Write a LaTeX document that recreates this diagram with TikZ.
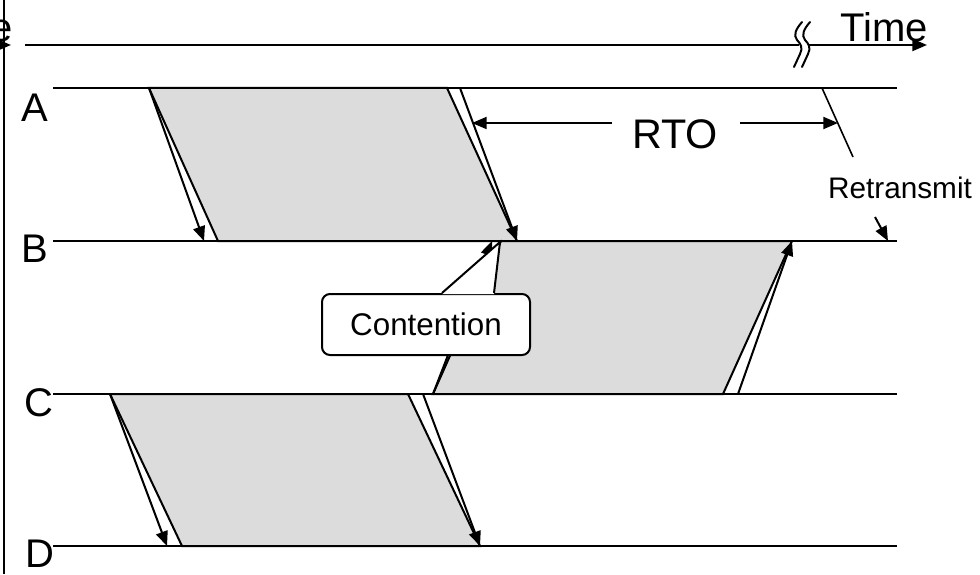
\documentclass[tikz,border=0pt]{standalone}
\usepackage{fontspec}
\setmainfont{Liberation Sans}
\usetikzlibrary{arrows.meta,calc}
\definecolor{slotgray}{RGB}{220,220,220}
\tikzset{
  wire/.style={line width=1.5pt},
  msg/.style={line width=1.5pt,-{Triangle[length=11pt,width=9pt]}},
  slot/.style={fill=slotgray,draw,line width=1.5pt,line join=miter},
  biglbl/.style={inner sep=0pt,anchor=base,font=\fontsize{30}{36}\selectfont},
  smalllbl/.style={inner sep=0pt,anchor=base,font=\fontsize{22.3}{27}\selectfont},
  calloutbox/.style={draw,fill=white,line width=1.5pt,rounded corners=6pt,
    minimum width=156pt,minimum height=45.75pt,inner sep=0pt,
    font=\fontsize{23.5}{28}\selectfont},
  breakmark/.style={line width=1.5pt,line cap=round},
}
\begin{document}
\begin{tikzpicture}[x=0.75pt,y=-0.75pt]
\useasboundingbox (0,0) rectangle (980,574);
\clip (0,0) rectangle (980,574);

% station lines
\coordinate (Aw) at (53,88);  \coordinate (Ae) at (897,88);
\coordinate (Bw) at (53,241); \coordinate (Be) at (897,241);
\coordinate (Cw) at (53,394); \coordinate (Ce) at (897,394);
\coordinate (Dw) at (53,546); \coordinate (De) at (897,546);

% frame A -> B
\coordinate (f1tl) at (149,88);  \coordinate (f1tr) at (447,88);
\coordinate (f1br) at (517,241); \coordinate (f1bl) at (218,241);
\coordinate (f1s) at (460,88);   \coordinate (f1e) at (204,241);
% frame C -> B
\coordinate (f2bl) at (433,394); \coordinate (f2br) at (723,394);
\coordinate (f2tr) at (792,241); \coordinate (f2tl) at (501,241);
\coordinate (f2s) at (738,394);  \coordinate (f2e) at (492,241);
% frame C -> D
\coordinate (f3tl) at (110,394); \coordinate (f3tr) at (408,394);
\coordinate (f3br) at (480,546); \coordinate (f3bl) at (182,546);
\coordinate (f3s) at (423,394);  \coordinate (f3e) at (167,546);

\draw[slot] (f1tl) -- (f1tr) -- (f1br) -- (f1bl) -- cycle;
\draw[slot] (f2bl) -- (f2br) -- (f2tr) -- (f2tl) -- cycle;
\draw[slot] (f3tl) -- (f3tr) -- (f3br) -- (f3bl) -- cycle;

\draw[wire] (Aw) -- (Ae);
\draw[wire] (Bw) -- (Be);
\draw[wire] (Cw) -- (Ce);
\draw[wire] (Dw) -- (De);

% propagation arrows
\draw[msg] (f1tl) -- (f1e);
\draw[msg] (f1s) -- (f1br);
\draw[msg] (f2bl) -- (f2e);
\draw[msg] (f2s) -- (f2tr);
\draw[msg] (f3tl) -- (f3e);
\draw[msg] (f3s) -- (f3br);

% station labels
\node[biglbl] (lA) at (35,122) {A};
\node[biglbl] (lB) at (35,262) {B};
\node[biglbl] (lC) at (39,416) {C};
\node[biglbl] (lD) at (40,567) {D};

% time axis with break
\coordinate (t0) at (25,45);  \coordinate (t1) at (799,45);
\coordinate (t2) at (809,45); \coordinate (t3) at (927,45);
\draw[wire] (t0) -- (t1);
\draw[msg] (t2) -- (t3);
\draw[breakmark] (802,22) .. controls (796,29) and (793,35) .. (797,40)
  .. controls (801,44) and (803,48) .. (800,54) -- (794,67);
\draw[breakmark] (810,22) .. controls (804,29) and (801,35) .. (805,40)
  .. controls (809,44) and (811,48) .. (808,54) -- (802,67);
\node[biglbl] (time) at (884,42) {Time};

% left border
\coordinate (v0) at (4,0); \coordinate (v1) at (4,574);
\draw[wire] (v0) -- (v1);
\coordinate (l0) at (-20,45); \coordinate (l1) at (11,45);
\draw[msg] (l0) -- (l1);
\node[biglbl,anchor=base east] (ecut) at (13,42) {e};

% retransmission timeout
\coordinate (rt0) at (822,88); \coordinate (rt1) at (853,157);
\draw[line width=1.2pt] (rt0) -- (rt1);
\node[biglbl,font=\fontsize{31}{37}\selectfont] (rto) at (675,148) {RTO};
\coordinate (rl0) at (612,123); \coordinate (rl1) at (472,123);
\coordinate (rr0) at (740,123); \coordinate (rr1) at (838,123);
\draw[msg] (rl0) -- (rl1);
\draw[msg] (rr0) -- (rr1);

\node[smalllbl] (retx) at (900,198) {Retransmit};
\coordinate (rx0) at (875,217); \coordinate (rx1) at (888,241);
\draw[msg] (rx0) -- (rx1);

% contention callout
\node[calloutbox] (cont) at (426,324.5) {Contention};
\coordinate (tip) at (500,242);
\fill[white] ($(cont.north west)+(121,1)$) -- (tip) -- ($(cont.north west)+(173,1)$) -- cycle;
\draw[line width=1.5pt,line join=miter] ($(cont.north west)+(121,0)$) -- (tip) -- ($(cont.north west)+(173,0)$);
\end{tikzpicture}
\end{document}
